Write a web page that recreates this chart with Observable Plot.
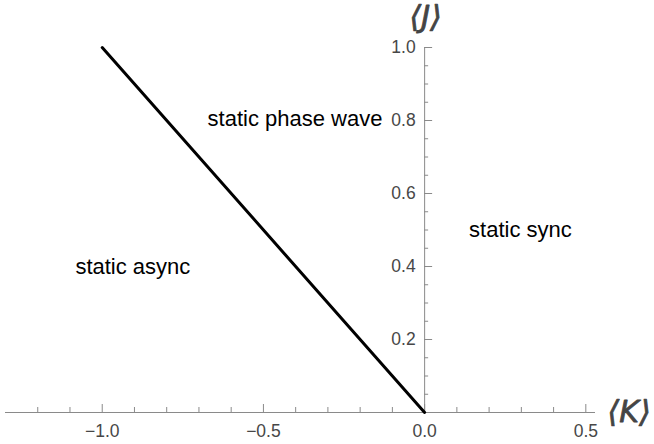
<!DOCTYPE html>
<html>
<head>
<meta charset="utf-8">
<script src="https://cdn.jsdelivr.net/npm/d3@7"></script>
<script src="https://cdn.jsdelivr.net/npm/@observablehq/plot@0.6"></script>
<style>
  html, body { margin: 0; padding: 0; background: #fff; }
  #chart svg { display: block; }
</style>
</head>
<body>
<div id="chart"></div>
<script>
// Phase boundary line
const boundaryK = [-1.0, 0.0];
const boundaryJ = [1.0, 0.0];

// Region labels
const regionNames = ["static phase wave", "static async", "static sync"];
const regionK = [-0.402, -0.905, 0.297];
const regionJ = [0.805, 0.398, 0.5];

// Axis ticks
const xMajorTicks = [-1.0, -0.5, 0.0, 0.5];
const xMinorTicks = [-1.2, -1.1, -0.9, -0.8, -0.7, -0.6, -0.4, -0.3, -0.2, -0.1, 0.1, 0.2, 0.3, 0.4];
const xTickLabels = ["−1.0", "−0.5", "0.0", "0.5"];
const yMajorTicks = [0.2, 0.4, 0.6, 0.8, 1.0];
const yMinorTicks = [0.05, 0.1, 0.15, 0.25, 0.3, 0.35, 0.45, 0.5, 0.55, 0.65, 0.7, 0.75, 0.85, 0.9, 0.95];
const yTickLabels = ["0.2", "0.4", "0.6", "0.8", "1.0"];

const xDomain = [-1.3, 0.53];
const yDomain = [0, 1.0];

const boundary = boundaryK.map((k, i) => ({k, j: boundaryJ[i]}));
const regions = regionNames.map((name, i) => ({name, k: regionK[i], j: regionJ[i]}));
const xLabels = xMajorTicks.map((v, i) => ({v, label: xTickLabels[i]}));
const yLabels = yMajorTicks.map((v, i) => ({v, label: yTickLabels[i]}));

const axisColor = "#8a8a8a";
const labelColor = "#474747";

const chart = Plot.plot({
  width: 654,
  height: 444,
  marginLeft: 5,
  marginRight: 59,
  marginTop: 47,
  marginBottom: 32,
  x: {domain: xDomain, axis: null},
  y: {domain: yDomain, axis: null},
  style: {fontFamily: "'Liberation Sans', Arial, Helvetica, sans-serif", background: "#fff"},
  marks: [
    // x axis line
    Plot.ruleY([0], {x1: xDomain[0], x2: xDomain[1], stroke: axisColor, strokeWidth: 1}),
    // y axis line
    Plot.ruleX([0], {y1: yDomain[0], y2: yDomain[1], stroke: axisColor, strokeWidth: 1}),
    // x ticks (pointing up)
    Plot.ruleX(xMinorTicks, {x: d => d, y1: 0, y2: 0, insetTop: -5, stroke: axisColor}),
    Plot.ruleX(xMajorTicks, {x: d => d, y1: 0, y2: 0, insetTop: -8, stroke: axisColor}),
    // y ticks (pointing right)
    Plot.ruleY(yMinorTicks, {y: d => d, x1: 0, x2: 0, insetRight: -4, stroke: axisColor}),
    Plot.ruleY(yMajorTicks, {y: d => d, x1: 0, x2: 0, insetRight: -8, stroke: axisColor}),
    // tick labels
    Plot.text(xLabels, {x: "v", y: () => 0, text: "label", dy: 19, fontSize: 17.5, fill: labelColor}),
    Plot.text(yLabels, {x: () => 0, y: "v", text: "label", dx: -9, textAnchor: "end", fontSize: 17.5, fill: labelColor}),
    // axis labels
    Plot.text(["⟨J⟩"], {x: () => 0, y: () => yDomain[1], text: d => d, dy: -30, dx: 1, fontSize: 30, fill: "#444", stroke: "#444", strokeWidth: 0.8, fontFamily: "'DejaVu Sans', sans-serif", fontStyle: "italic"}),
    Plot.text(["⟨K⟩"], {x: () => xDomain[1], y: () => 0, text: d => d, dx: 12, textAnchor: "start", fontSize: 30, fill: "#444", stroke: "#444", strokeWidth: 0.8, fontFamily: "'DejaVu Sans', sans-serif", fontStyle: "italic"}),
    // boundary line
    Plot.line(boundary, {x: "k", y: "j", stroke: "#000", strokeWidth: 3}),
    // region labels
    Plot.text(regions, {x: "k", y: "j", text: "name", fontSize: 22, fill: "#000"})
  ]
});

document.getElementById("chart").appendChild(chart);
</script>
</body>
</html>
